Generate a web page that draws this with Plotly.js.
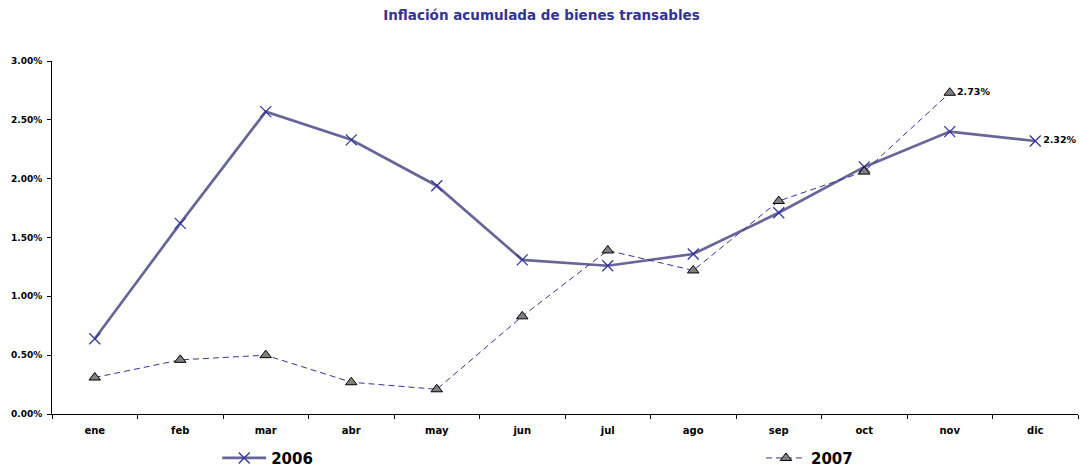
<!DOCTYPE html>
<html>
<head>
<meta charset="utf-8">
<script src="https://cdn.plot.ly/plotly-3.0.1.min.js"></script>
<style>html,body{margin:0;padding:0;background:#fff;}#chart{width:1083px;height:468px;}</style>
</head>
<body>
<div id="chart"></div>
<script>
const months = ["ene","feb","mar","abr","may","jun","jul","ago","sep","oct","nov","dic"];
const values2006 = [0.64, 1.62, 2.57, 2.33, 1.94, 1.31, 1.26, 1.36, 1.71, 2.10, 2.40, 2.32];
const months2007 = ["ene","feb","mar","abr","may","jun","jul","ago","sep","oct","nov"];
const values2007 = [0.31, 0.46, 0.50, 0.27, 0.21, 0.83, 1.39, 1.22, 1.81, 2.06, 2.73];
const yTickVals = [0, 0.5, 1, 1.5, 2, 2.5, 3];
const yTickText = yTickVals.map(v => v.toFixed(2) + "%");

const font = "DejaVu Sans, Liberation Sans, Arial, sans-serif";
const labelFor = (arr) => arr.map((v, i) => i === arr.length - 1 ? "<b>" + v.toFixed(2) + "%</b>" : "");

const traces = [
  {
    x: months, y: values2006, name: "<b>2006</b>", type: "scatter",
    mode: "lines+markers+text",
    text: labelFor(values2006), textposition: "middle right",
    textfont: {family: font, size: 9.5, color: "#000"},
    cliponaxis: false,
    line: {color: "#666699", width: 2.7},
    marker: {symbol: "x-thin", size: 11, line: {color: "#333399", width: 1.3}, color: "#333399"},
    legend: "legend"
  },
  {
    x: months2007, y: values2007, name: "<b>2007</b>", type: "scatter",
    mode: "lines+markers+text",
    text: labelFor(values2007), textposition: "middle right",
    textfont: {family: font, size: 9.5, color: "#000"},
    cliponaxis: false,
    line: {color: "#333399", width: 1, dash: "6px,4px"},
    marker: {symbol: "triangle-up", size: 10, color: "#808080", line: {color: "#000", width: 1}},
    legend: "legend2"
  }
];

const layout = {
  width: 1083, height: 468,
  margin: {l: 52, r: 5, t: 61, b: 54, autoexpand: false},
  paper_bgcolor: "#fff", plot_bgcolor: "#fff",
  font: {family: font},
  title: {
    text: "<b>Inflación acumulada de bienes transables</b>",
    font: {family: font, size: 13.5, color: "#333399"},
    x: 0.5, xanchor: "center", y: 0.968, yanchor: "middle"
  },
  xaxis: {
    type: "category", categoryorder: "array", categoryarray: months,
    range: [-0.5, 11.5],
    showline: true, linecolor: "#000", linewidth: 1,
    ticks: "outside", ticklen: 4, tickcolor: "#000", tickson: "boundaries",
    ticklabelstandoff: 7,
    showgrid: false, zeroline: false,
    tickfont: {family: font, size: 10, color: "#000", weight: "bold"}
  },
  yaxis: {
    range: [0, 3], tickmode: "array", tickvals: yTickVals, ticktext: yTickText,
    showline: true, linecolor: "#000", linewidth: 1,
    ticks: "outside", ticklen: 4, tickcolor: "#000",
    ticklabelstandoff: 3,
    showgrid: false, zeroline: false,
    tickfont: {family: font, size: 9, color: "#000", weight: "bold"}
  },
  showlegend: true,
  legend: {
    orientation: "h", x: 0.161, xanchor: "left",
    yref: "container", y: 0.021, yanchor: "middle",
    font: {family: font, size: 15, color: "#000"}, itemwidth: 44,
    bgcolor: "rgba(0,0,0,0)"
  },
  legend2: {
    orientation: "h", x: 0.691, xanchor: "left",
    yref: "container", y: 0.021, yanchor: "middle",
    font: {family: font, size: 15, color: "#000"}, itemwidth: 40,
    bgcolor: "rgba(0,0,0,0)"
  }
};

Plotly.newPlot("chart", traces, layout, {displayModeBar: false, staticPlot: true});
</script>
</body>
</html>
